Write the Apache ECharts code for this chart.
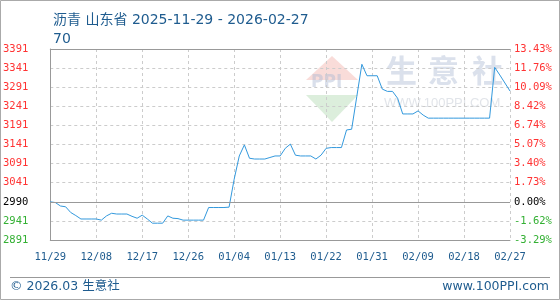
<!DOCTYPE html>
<html>
<head>
<meta charset="utf-8">
<script src="https://cdn.jsdelivr.net/npm/echarts@6/dist/echarts.min.js"></script>
<style>
html,body{margin:0;padding:0;background:#fff;}
#c{width:560px;height:300px;}
</style>
</head>
<body>
<div id="c"></div>
<script>
const TITLE = '沥青 山东省 2025-11-29 - 2026-02-27\n70';
const START_DATE = '2025-11-29';
const DAYS = 91;
const BASE = 2990;
const Y_MIN = 2890, Y_MAX = 3390, Y_STEP = 50;
const leftTickLabels = ['2891','2941','2990','3041','3091','3141','3191','3241','3291','3341','3391'];
const rightTickLabels = ['-3.29%','-1.62%','0.00%','1.73%','3.40%','5.07%','6.74%','8.42%','10.09%','11.76%','13.43%'];
const prices = [
  2990,2988,2979,2977,2962,2954,2945,2945,2945,2945,
  2942,2953,2960,2958,2958,2958,2952,2947,2955,2945,
  2934,2934,2934,2953,2947,2946,2942,2942,2942,2942,
  2942,2975,2975,2975,2975,2976,3049,3110,3139,3104,
  3102,3102,3102,3106,3110,3110,3130,3141,3112,3110,
  3110,3110,3102,3112,3130,3132,3132,3132,3178,3180,
  3265,3350,3320,3320,3320,3285,3279,3279,3261,3220,
  3220,3220,3228,3217,3209,3209,3209,3209,3209,3209,
  3209,3209,3209,3209,3209,3209,3209,3342,3322,3301,
  3280
];

const categories = [];
(function(){
  const d = new Date(START_DATE + 'T00:00:00Z');
  for (let i = 0; i < DAYS; i++) {
    const m = String(d.getUTCMonth()+1).padStart(2,'0');
    const dd = String(d.getUTCDate()).padStart(2,'0');
    categories.push(m + '/' + dd);
    d.setUTCDate(d.getUTCDate()+1);
  }
})();

function tickIndex(v){ return Math.round((v - Y_MIN)/Y_STEP); }
function tickColor(v){
  const i = tickIndex(v), b = tickIndex(BASE);
  return i > b ? '#ff3333' : (i === b ? '#000000' : '#33b033');
}

const chart = echarts.init(document.getElementById('c'), null, {renderer:'canvas'});
const MONO = '"DejaVu Sans Mono", monospace';
chart.setOption({
  animation:false,
  backgroundColor:'#ffffff',
  title:{
    text:TITLE, left:48, top:6,
    textStyle:{color:'#1f5c8f', fontSize:14, fontWeight:'normal', lineHeight:19,
      fontFamily:'"DejaVu Sans","Noto Sans CJK SC",sans-serif'}
  },
  grid:{left:50, right:50, top:49, bottom:60, containLabel:false},
  xAxis:[{
    type:'category', data:categories, boundaryGap:false,
    axisLine:{show:true, lineStyle:{color:'#999999', width:1}},
    axisTick:{show:false},
    axisLabel:{interval:8, margin:12, color:'#1f5c8f', fontSize:10.5, fontFamily:MONO},
    splitLine:{show:true, interval:8, lineStyle:{color:'#cccccc', type:[3,3], width:1}}
  },{
    type:'category', data:categories, boundaryGap:false, position:'top',
    axisLine:{show:true, lineStyle:{color:'#999999', width:1}},
    axisTick:{show:false}, axisLabel:{show:false}, splitLine:{show:false}
  }],
  yAxis:[{
    type:'value', min:Y_MIN, max:Y_MAX, interval:Y_STEP, position:'left',
    axisLine:{show:true, lineStyle:{color:'#999999', width:1}},
    axisTick:{show:false},
    axisLabel:{margin:22, fontSize:10.5, fontFamily:MONO, align:'right',
      formatter:function(v){ return leftTickLabels[tickIndex(v)]; },
      color:function(v){ return tickColor(v); }},
    splitLine:{show:true, lineStyle:{color:'#cccccc', type:[3,3], width:1}}
  },{
    type:'value', min:Y_MIN, max:Y_MAX, interval:Y_STEP, position:'right',
    axisLine:{show:false}, axisTick:{show:false}, splitLine:{show:false},
    axisLabel:{margin:4, fontSize:10.5, fontFamily:MONO, align:'left',
      formatter:function(v){ return rightTickLabels[tickIndex(v)]; },
      color:function(v){ return tickColor(v); }}
  }],
  graphic:[
    {type:'rect', silent:true, z:-10, shape:{x:0.5,y:0.5,width:559,height:299}, style:{fill:'none', stroke:'#aaaaaa', lineWidth:1}},
    {type:'line', silent:true, shape:{x1:10,y1:277.5,x2:550,y2:277.5}, style:{stroke:'#999999', lineWidth:1}},
    {type:'text', silent:true, left:10, top:280, style:{text:'© 2026.03 生意社', fill:'#1f5c8f', font:'12.5px "DejaVu Sans","Noto Sans CJK SC",sans-serif'}},
    {type:'text', silent:true, right:11, top:280, style:{text:'www.100PPI.com', fill:'#1f5c8f', font:'12.5px "DejaVu Sans",sans-serif'}},
    {type:'polygon', silent:true, z:-1, shape:{points:[[306,80],[332,56],[358,80]]}, style:{fill:'rgba(235,140,130,0.30)'}},
    {type:'text', silent:true, z:-1, left:311, top:74, style:{text:'PPI', fill:'rgba(170,185,210,0.45)', font:'bold 17px "DejaVu Sans",sans-serif'}},
    {type:'polygon', silent:true, z:-1, shape:{points:[[306,95],[358,95],[332,122]]}, style:{fill:'rgba(140,200,140,0.30)'}},
    {type:'text', silent:true, z:-1, left:386, top:55, style:{text:'生', fill:'rgba(190,200,220,0.55)', font:'bold 31px "Noto Sans CJK SC",sans-serif'}},
    {type:'text', silent:true, z:-1, left:428, top:55, style:{text:'意', fill:'rgba(190,200,220,0.55)', font:'bold 31px "Noto Sans CJK SC",sans-serif'}},
    {type:'text', silent:true, z:-1, left:472, top:55, style:{text:'社', fill:'rgba(190,200,220,0.55)', font:'bold 31px "Noto Sans CJK SC",sans-serif'}},
    {type:'text', silent:true, z:-1, left:384, top:97, style:{text:'WWW.100PPI.COM', fill:'rgba(200,205,215,0.55)', font:'13px "Liberation Sans",sans-serif'}}
  ],
  series:[{
    type:'line', data:prices, xAxisIndex:0, yAxisIndex:0,
    showSymbol:false, symbol:'none',
    lineStyle:{color:'#3399dd', width:1},
    markLine:{silent:true, symbol:'none', label:{show:false},
      lineStyle:{color:'#999999', type:'solid', width:1},
      data:[{yAxis:BASE}]}
  }]
});
</script>
</body>
</html>
